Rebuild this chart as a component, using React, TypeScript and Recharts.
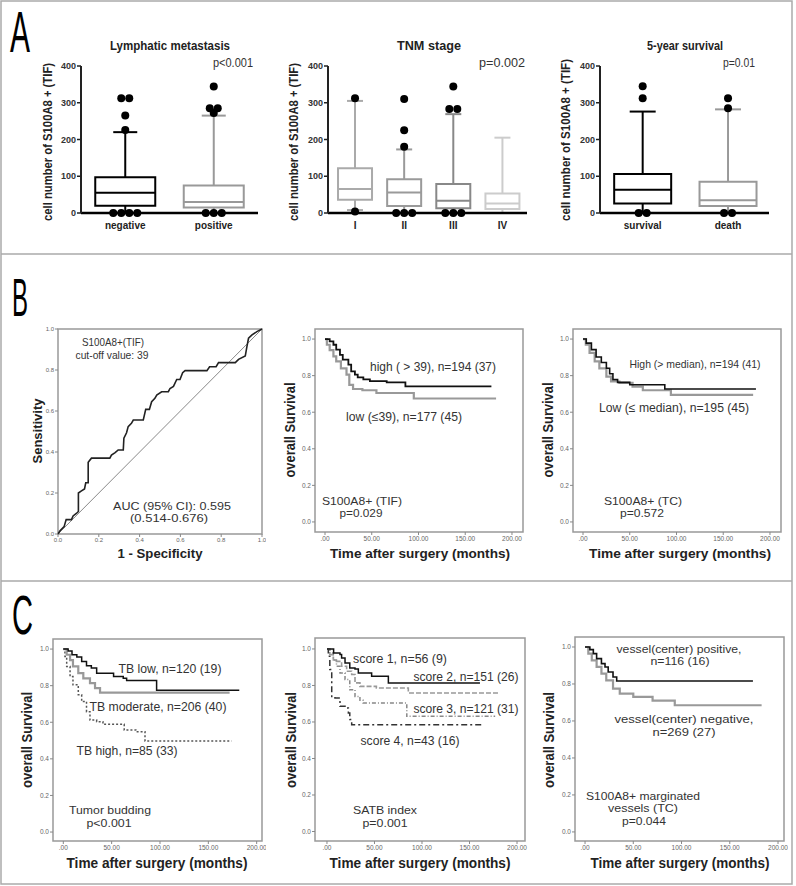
import React from "react";
import {
  ComposedChart,
  LineChart,
  Line,
  Scatter,
  XAxis,
  YAxis,
  ReferenceArea,
  ReferenceLine,
} from "recharts";

const FONT = "'Liberation Sans', Arial, Helvetica, sans-serif";

// ---------- Panel A data ----------
const lymphCats = ["negative", "positive"];
const lymphQ1 = [20, 15];
const lymphMed = [55, 30];
const lymphQ3 = [97, 75];
const lymphLow = [0, 0];
const lymphHigh = [220, 265];
const lymphOut = [
  [312, 312, 265, 226, 0, 0, 0, 0],
  [344, 285, 285, 272, 0, 0, 0],
];

const tnmCats = ["I", "II", "III", "IV"];
const tnmQ1 = [36, 19, 13, 11];
const tnmMed = [65, 56, 33, 26];
const tnmQ3 = [122, 92, 79, 53];
const tnmLow = [8, 0, 0, 0];
const tnmHigh = [305, 173, 269, 205];
const tnmOut = [
  [312, 4],
  [310, 225, 180, 0, 0, 0],
  [344, 283, 283, 0, 0, 0],
  [],
];

const survCats = ["survival", "death"];
const survQ1 = [26, 19];
const survMed = [63, 35];
const survQ3 = [106, 85];
const survLow = [0, 0];
const survHigh = [276, 282];
const survOut = [
  [345, 312, 0, 0],
  [312, 285, 0, 0],
];

const boxTicks = [0, 100, 200, 300, 400];

// ---------- Panel B data ----------
const rocFpr = [0, 0.01, 0.03, 0.04, 0.066, 0.074, 0.09, 0.1, 0.1, 0.115, 0.13, 0.136, 0.148, 0.148, 0.164, 0.254, 0.262, 0.28, 0.295, 0.32, 0.323, 0.336, 0.344, 0.36, 0.369, 0.418, 0.43, 0.448, 0.459, 0.475, 0.484, 0.508, 0.541, 0.549, 0.566, 0.582, 0.598, 0.611, 0.623, 0.73, 0.743, 0.775, 0.787, 0.869, 0.885, 0.918, 0.926, 0.934, 0.951, 0.975, 1];
const rocTpr = [0, 0.016, 0.036, 0.07, 0.07, 0.088, 0.1, 0.11, 0.2, 0.21, 0.22, 0.25, 0.25, 0.35, 0.37, 0.37, 0.385, 0.397, 0.41, 0.41, 0.467, 0.494, 0.524, 0.54, 0.556, 0.556, 0.608, 0.608, 0.645, 0.662, 0.678, 0.694, 0.694, 0.71, 0.72, 0.754, 0.754, 0.787, 0.797, 0.797, 0.816, 0.816, 0.836, 0.836, 0.852, 0.868, 0.914, 0.955, 0.971, 0.987, 1];
const rocTicks = [0, 0.2, 0.4, 0.6, 0.8, 1.0];

const tifHighT = [0, 5, 9, 12, 16, 19, 25, 28, 32, 35, 41, 48, 66, 86, 178];
const tifHighS = [1.0, 0.987, 0.969, 0.942, 0.914, 0.887, 0.86, 0.823, 0.805, 0.79, 0.78, 0.77, 0.763, 0.741, 0.741];
const tifLowT = [0, 2, 5, 9, 12, 17, 23, 26, 30, 40, 55, 95, 183];
const tifLowS = [1.0, 0.969, 0.94, 0.905, 0.878, 0.84, 0.805, 0.75, 0.727, 0.72, 0.705, 0.675, 0.675];

const tcHighT = [0, 3.5, 9, 14, 19.6, 25, 28.5, 32, 37, 50, 87.5, 185];
const tcHighS = [1.0, 0.978, 0.942, 0.902, 0.872, 0.84, 0.81, 0.778, 0.763, 0.75, 0.727, 0.727];
const tcLowT = [0, 3, 7, 12.5, 17.5, 25, 30, 39, 53, 64, 94, 182];
const tcLowS = [1.0, 0.969, 0.924, 0.878, 0.84, 0.795, 0.768, 0.76, 0.74, 0.72, 0.695, 0.695];

// ---------- Panel C data ----------
const tbLowT = [0, 5, 9, 14, 19, 24, 29, 34.5, 52, 62, 65.5, 96.5, 182];
const tbLowS = [1.0, 0.99, 0.969, 0.956, 0.932, 0.909, 0.896, 0.868, 0.85, 0.84, 0.828, 0.775, 0.775];
const tbModT = [0, 3.5, 7, 10, 15.5, 20.7, 27.6, 32.8, 38, 172];
const tbModS = [1.0, 0.969, 0.94, 0.905, 0.868, 0.84, 0.814, 0.786, 0.762, 0.762];
const tbHighT = [0, 1.7, 3.5, 7, 10, 15.5, 19, 24, 27.6, 34.5, 41, 63, 75, 84.5, 174];
const tbHighS = [1.0, 0.96, 0.905, 0.85, 0.805, 0.75, 0.713, 0.658, 0.612, 0.603, 0.589, 0.558, 0.548, 0.497, 0.497];

const sc1T = [0, 7, 13.7, 15.4, 19, 24, 29.5, 33, 47, 64.6, 161];
const sc1S = [1.0, 0.978, 0.969, 0.95, 0.923, 0.896, 0.89, 0.868, 0.85, 0.814, 0.814];
const sc2T = [0, 3, 6.7, 10, 15.4, 20.7, 26, 29.5, 34.7, 52, 85.6, 180];
const sc2S = [1.0, 0.969, 0.94, 0.932, 0.905, 0.878, 0.86, 0.814, 0.795, 0.786, 0.759, 0.759];
const sc3T = [0, 3, 6.7, 10, 13.7, 19, 24, 29.5, 34.7, 38, 84, 177];
const sc3S = [1.0, 0.978, 0.94, 0.905, 0.868, 0.832, 0.777, 0.74, 0.719, 0.704, 0.631, 0.631];
const sc4T = [0, 1.4, 3, 5, 8.4, 13.7, 19, 22.5, 24, 26, 163];
const sc4S = [1.0, 0.96, 0.887, 0.74, 0.731, 0.686, 0.677, 0.649, 0.613, 0.585, 0.585];

const vesPosT = [0, 5, 8.6, 12, 17, 20.7, 24, 29, 32.8, 174];
const vesPosS = [1.0, 0.986, 0.964, 0.937, 0.91, 0.892, 0.865, 0.838, 0.816, 0.816];
const vesNegT = [0, 3.4, 7, 12, 17, 22, 29, 36, 50, 70, 93, 183];
const vesNegS = [1.0, 0.964, 0.928, 0.892, 0.856, 0.82, 0.775, 0.748, 0.73, 0.71, 0.685, 0.685];

const kmXTicks = [0, 50, 100, 150, 200];
const kmYTicks = [0, 0.2, 0.4, 0.6, 0.8, 1.0];

const zipKM = (t: number[], s: number[]) => t.map((v, i) => ({ t: v, s: s[i] }));

type Rect = { x: number; y: number; w: number; h: number };

function BoxPanel(props: {
  cats: string[];
  q1: number[];
  med: number[];
  q3: number[];
  lo: number[];
  hi: number[];
  out: number[][];
  colors: string[];
  rect: Rect;
  dom: [number, number];
  boxPx: number;
  capPx: number;
}) {
  const { cats, q1, med, q3, lo, hi, out, colors, rect, dom, boxPx, capPx } = props;
  const wY = 40, hX = 26, tp = 10, rp = 6;
  const unit = rect.w / (dom[1] - dom[0]);
  const half = boxPx / unit;
  const cap = capPx / unit;
  const pts: { x: number; y: number }[] = [];
  out.forEach((arr, i) => {
    const groups: Record<string, number> = {};
    arr.forEach((v) => (groups[String(v)] = (groups[String(v)] || 0) + 1));
    Object.keys(groups).forEach((k) => {
      const n = groups[k];
      for (let j = 0; j < n; j++) pts.push({ x: i + 1 + ((j - (n - 1) / 2) * 8) / unit, y: Number(k) });
    });
  });
  const ticks = cats.map((_, i) => i + 1);
  return (
    <div style={{ position: "absolute", left: rect.x - wY, top: rect.y - tp }}>
      <ComposedChart width={wY + rect.w + rp} height={tp + rect.h + hX} margin={{ top: tp, right: rp, left: 0, bottom: 0 }}>
        <XAxis
          type="number"
          dataKey="x"
          domain={dom}
          ticks={ticks}
          interval={0}
          tickFormatter={(v: number) => cats[Math.round(v) - 1]}
          axisLine={{ stroke: "#000", strokeWidth: 2.5 }}
          tickLine={false}
          tickMargin={3}
          height={hX}
          tick={{ fontSize: 10, fontWeight: 700, fill: "#222", fontFamily: FONT }}
        />
        <YAxis
          type="number"
          dataKey="y"
          domain={[0, 400]}
          ticks={boxTicks}
          interval={0}
          width={wY}
          axisLine={{ stroke: "#222", strokeWidth: 2 }}
          tickLine={{ stroke: "#222", strokeWidth: 1.5 }}
          tickSize={4}
          tickMargin={1}
          tick={{ fontSize: 9, fontWeight: 700, fill: "#333", fontFamily: FONT }}
        />
        {cats.map((c, i) => (
          <ReferenceLine
            key={"wl" + c}
            segment={[{ x: i + 1, y: lo[i] }, { x: i + 1, y: q1[i] }]}
            stroke={colors[i]}
            strokeWidth={2}
          />
        ))}
        {cats.map((c, i) => (
          <ReferenceLine
            key={"wh" + c}
            segment={[{ x: i + 1, y: q3[i] }, { x: i + 1, y: hi[i] }]}
            stroke={colors[i]}
            strokeWidth={2}
          />
        ))}
        {cats.map((c, i) => (
          <ReferenceLine
            key={"ch" + c}
            segment={[{ x: i + 1 - cap, y: hi[i] }, { x: i + 1 + cap, y: hi[i] }]}
            stroke={colors[i]}
            strokeWidth={2}
          />
        ))}
        {cats.map((c, i) => (
          <ReferenceLine
            key={"cl" + c}
            segment={[{ x: i + 1 - cap, y: lo[i] }, { x: i + 1 + cap, y: lo[i] }]}
            stroke={colors[i]}
            strokeWidth={2}
          />
        ))}
        {cats.map((c, i) => (
          <ReferenceArea
            key={"bx" + c}
            x1={i + 1 - half}
            x2={i + 1 + half}
            y1={q1[i]}
            y2={q3[i]}
            fill="none"
            fillOpacity={0}
            stroke={colors[i]}
            strokeWidth={2}
          />
        ))}
        {cats.map((c, i) => (
          <ReferenceLine
            key={"md" + c}
            segment={[{ x: i + 1 - half, y: med[i] }, { x: i + 1 + half, y: med[i] }]}
            stroke={colors[i]}
            strokeWidth={2}
          />
        ))}
        <Scatter
          data={pts}
          dataKey="y"
          isAnimationActive={false}
          shape={(p: any) => <circle cx={p.cx} cy={p.cy} r={4} fill="#000" />}
        />
      </ComposedChart>
    </div>
  );
}

type Series = { data: { t: number; s: number }[]; stroke: string; width: number; dash?: string };

function KMPanel(props: { rect: Rect; xd: [number, number]; yd: [number, number]; series: Series[] }) {
  const { rect, xd, yd, series } = props;
  const wY = 24, hX = 16, tp = 4, rp = 4;
  return (
    <div style={{ position: "absolute", left: rect.x - wY, top: rect.y - tp }}>
      <LineChart width={wY + rect.w + rp} height={tp + rect.h + hX} margin={{ top: tp, right: rp, left: 0, bottom: 0 }}>
        <XAxis
          type="number"
          dataKey="t"
          domain={xd}
          ticks={kmXTicks}
          interval={0}
          tickFormatter={(v: number) => (v === 0 ? ".00" : v.toFixed(2))}
          axisLine={false}
          tickLine={{ stroke: "#888" }}
          tickSize={3}
          tickMargin={1}
          height={hX}
          tick={{ fontSize: 6.5, fill: "#666", fontFamily: FONT }}
        />
        <YAxis
          type="number"
          domain={yd}
          ticks={kmYTicks}
          interval={0}
          tickFormatter={(v: number) => v.toFixed(1)}
          axisLine={false}
          tickLine={{ stroke: "#888" }}
          tickSize={3}
          tickMargin={1}
          width={wY}
          tick={{ fontSize: 6.5, fill: "#666", fontFamily: FONT }}
        />
        <ReferenceArea x1={xd[0]} x2={xd[1]} y1={yd[0]} y2={yd[1]} fill="none" fillOpacity={0} stroke="#999" strokeWidth={1.5} />
        {series.map((s, i) => (
          <Line
            key={i}
            data={s.data}
            dataKey="s"
            type="stepAfter"
            stroke={s.stroke}
            strokeWidth={s.width}
            strokeDasharray={s.dash}
            dot={false}
            isAnimationActive={false}
          />
        ))}
      </LineChart>
    </div>
  );
}

function RocPanel(props: { rect: Rect }) {
  const { rect } = props;
  const wY = 24, hX = 16, tp = 4, rp = 4;
  const data = rocFpr.map((x, i) => ({ x, y: rocTpr[i] }));
  return (
    <div style={{ position: "absolute", left: rect.x - wY, top: rect.y - tp }}>
      <LineChart width={wY + rect.w + rp} height={tp + rect.h + hX} margin={{ top: tp, right: rp, left: 0, bottom: 0 }}>
        <XAxis
          type="number"
          dataKey="x"
          domain={[0, 1]}
          ticks={rocTicks}
          interval={0}
          tickFormatter={(v: number) => v.toFixed(1)}
          axisLine={false}
          tickLine={{ stroke: "#888" }}
          tickSize={3}
          tickMargin={1}
          height={hX}
          tick={{ fontSize: 6, fill: "#666", fontFamily: FONT }}
        />
        <YAxis
          type="number"
          domain={[0, 1]}
          ticks={rocTicks}
          interval={0}
          tickFormatter={(v: number) => v.toFixed(1)}
          axisLine={false}
          tickLine={{ stroke: "#888" }}
          tickSize={3}
          tickMargin={1}
          width={wY}
          tick={{ fontSize: 6, fill: "#666", fontFamily: FONT }}
        />
        <ReferenceArea x1={0} x2={1} y1={0} y2={1} fill="none" fillOpacity={0} stroke="#999" strokeWidth={1.5} />
        <ReferenceLine segment={[{ x: 0, y: 0 }, { x: 1, y: 1 }]} stroke="#888" strokeWidth={1} />
        <Line data={data} dataKey="y" type="linear" stroke="#222" strokeWidth={1.6} dot={false} isAnimationActive={false} />
      </LineChart>
    </div>
  );
}

function Txt(p: { x: number; y: number; s: string; size?: number; w?: number; bold?: boolean; rot?: boolean; fill?: string }) {
  const size = p.size || 12;
  const x = p.rot ? p.x + size * 0.36 : p.x;
  return (
    <text
      x={x}
      y={p.y}
      fontSize={size}
      fontWeight={p.bold ? 700 : 400}
      fontFamily={FONT}
      textAnchor="middle"
      fill={p.fill || "#222"}
      textLength={p.w}
      lengthAdjust={p.w ? "spacingAndGlyphs" : undefined}
      transform={p.rot ? `rotate(-90 ${x} ${p.y})` : undefined}
    >
      {p.s}
    </text>
  );
}

export default function App() {
  const kmB: [number, number] = [-10.7, 211.8];
  const ykmB: [number, number] = [-0.055, 1.055];
  return (
    <div style={{ position: "absolute", left: 0, top: 0, width: 796, height: 886, background: "#fff", overflow: "hidden" }}>
      {/* Panel A */}
      <BoxPanel cats={lymphCats} q1={lymphQ1} med={lymphMed} q3={lymphQ3} lo={lymphLow} hi={lymphHigh} out={lymphOut}
        colors={["#000", "#999"]} rect={{ x: 81, y: 65.5, w: 177, h: 147 }} dom={[0.5, 2.5]} boxPx={30} capPx={12} />
      <BoxPanel cats={tnmCats} q1={tnmQ1} med={tnmMed} q3={tnmQ3} lo={tnmLow} hi={tnmHigh} out={tnmOut}
        colors={["#aaa", "#9a9a9a", "#888", "#ccc"]} rect={{ x: 328, y: 65.5, w: 199, h: 147 }} dom={[0.45, 4.5]} boxPx={17} capPx={8} />
      <BoxPanel cats={survCats} q1={survQ1} med={survMed} q3={survQ3} lo={survLow} hi={survHigh} out={survOut}
        colors={["#000", "#999"]} rect={{ x: 600, y: 65.5, w: 169, h: 147 }} dom={[0.5, 2.48]} boxPx={28.5} capPx={13} />

      {/* Panel B */}
      <RocPanel rect={{ x: 58, y: 329, w: 204, h: 205 }} />
      <KMPanel rect={{ x: 315, y: 329, w: 208, h: 203 }} xd={kmB} yd={ykmB}
        series={[
          { data: zipKM(tifLowT, tifLowS), stroke: "#999", width: 2.2 },
          { data: zipKM(tifHighT, tifHighS), stroke: "#111", width: 1.8 },
        ]} />
      <KMPanel rect={{ x: 573, y: 329, w: 208, h: 203 }} xd={kmB} yd={ykmB}
        series={[
          { data: zipKM(tcLowT, tcLowS), stroke: "#999", width: 2.2 },
          { data: zipKM(tcHighT, tcHighS), stroke: "#111", width: 1.6 },
        ]} />

      {/* Panel C */}
      <KMPanel rect={{ x: 53, y: 639, w: 209, h: 202 }} xd={[-10.65, 205.5]} yd={[-0.049, 1.055]}
        series={[
          { data: zipKM(tbHighT, tbHighS), stroke: "#555", width: 1.5, dash: "2 2" },
          { data: zipKM(tbModT, tbModS), stroke: "#999", width: 2.2 },
          { data: zipKM(tbLowT, tbLowS), stroke: "#111", width: 1.5 },
        ]} />
      <KMPanel rect={{ x: 315, y: 638, w: 210, h: 203 }} xd={[-12.6, 208.4]} yd={[-0.052, 1.06]}
        series={[
          { data: zipKM(sc4T, sc4S), stroke: "#333", width: 1.5, dash: "6 3 2 3" },
          { data: zipKM(sc3T, sc3S), stroke: "#888", width: 1.5, dash: "4 2 1 2" },
          { data: zipKM(sc2T, sc2S), stroke: "#999", width: 1.6, dash: "5 2" },
          { data: zipKM(sc1T, sc1S), stroke: "#111", width: 1.5 },
        ]} />
      <KMPanel rect={{ x: 575, y: 637, w: 209, h: 204 }} xd={[-10.4, 206.2]} yd={[-0.049, 1.054]}
        series={[
          { data: zipKM(vesNegT, vesNegS), stroke: "#999", width: 2.2 },
          { data: zipKM(vesPosT, vesPosS), stroke: "#111", width: 1.6 },
        ]} />

      {/* Overlay text and frames */}
      <svg width={796} height={886} style={{ position: "absolute", left: 0, top: 0, pointerEvents: "none" }}>
        <rect x={1} y={1} width={791} height={883} fill="none" stroke="#aaa" strokeWidth={1.5} />
        <line x1={1} x2={792} y1={254} y2={254} stroke="#aaa" strokeWidth={1.5} />
        <line x1={1} x2={792} y1={581} y2={581} stroke="#aaa" strokeWidth={1.5} />

        <Txt x={20} y={52} s="A" size={58} w={20} fill="#000" />
        <Txt x={20} y={316} s="B" size={54} w={16} fill="#000" />
        <Txt x={22.5} y={634} s="C" size={56} w={21} fill="#000" />

        <Txt x={170} y={50} s="Lymphatic metastasis" size={12.5} bold w={120} />
        <Txt x={429} y={50} s="TNM stage" size={12.5} bold w={64} />
        <Txt x={685} y={50} s="5-year survival" size={12.5} bold w={76} />
        <Txt x={233} y={67} s="p<0.001" size={12} w={40} fill="#333" />
        <Txt x={502} y={67} s="p=0.002" size={12} w={46} fill="#333" />
        <Txt x={739} y={67} s="p=0.01" size={12} w={32} fill="#333" />
        <Txt x={48} y={142} s="cell number of S100A8 + (TIF)" size={12} bold w={158} rot />
        <Txt x={294} y={142} s="cell number of S100A8 + (TIF)" size={12} bold w={158} rot />
        <Txt x={566} y={140} s="cell number of S100A8 + (TIF)" size={12} bold w={162} rot />

        <Txt x={113} y={345.5} s="S100A8+(TIF)" size={11.5} w={62} fill="#333" />
        <Txt x={112} y={358.5} s="cut-off value: 39" size={11.5} w={73} fill="#333" />
        <Txt x={172} y={510} s="AUC (95% CI): 0.595" size={11.5} w={118} fill="#333" />
        <Txt x={169} y={522} s="(0.514-0.676)" size={11.5} w={78} fill="#333" />
        <Txt x={37.5} y={431} s="Sensitivity" size={13} bold w={65} rot />
        <Txt x={160} y={558} s="1 - Specificity" size={13.5} bold w={85} />

        <Txt x={433} y={371} s="high ( > 39), n=194 (37)" size={12} w={126} fill="#333" />
        <Txt x={404} y={421} s="low (≤39), n=177 (45)" size={12} w={116} fill="#333" />
        <Txt x={362} y={505} s="S100A8+ (TIF)" size={11.5} w={80} fill="#333" />
        <Txt x={361} y={517} s="p=0.029" size={11.5} w={43} fill="#333" />
        <Txt x={290} y={430} s="overall Survival" size={14} bold w={95} rot />
        <Txt x={420} y={558} s="Time after surgery (months)" size={13.5} bold w={180} />

        <Txt x={695} y={368} s="High (> median), n=194 (41)" size={10.5} w={131} fill="#333" />
        <Txt x={674} y={412} s="Low (≤ median), n=195 (45)" size={12.5} w={150} fill="#333" />
        <Txt x={643} y={505} s="S100A8+ (TC)" size={11.5} w={78} fill="#333" />
        <Txt x={642} y={517} s="p=0.572" size={11.5} w={44} fill="#333" />
        <Txt x={548} y={430} s="overall Survival" size={14} bold w={95} rot />
        <Txt x={680} y={558} s="Time after surgery (months)" size={13.5} bold w={182} />

        <Txt x={170} y={673} s="TB low, n=120 (19)" size={12} w={103} fill="#333" />
        <Txt x={158} y={711} s="TB moderate, n=206 (40)" size={12} w={137} fill="#333" />
        <Txt x={127} y={755} s="TB high, n=85 (33)" size={12} w={101} fill="#333" />
        <Txt x={110} y={814} s="Tumor budding" size={11.5} w={82} fill="#333" />
        <Txt x={109} y={827} s="p<0.001" size={11.5} w={45} fill="#333" />
        <Txt x={27} y={740} s="overall Survival" size={14} bold w={96} rot />
        <Txt x={157} y={868} s="Time after surgery (months)" size={14} bold w={181} />

        <Txt x={400} y={663} s="score 1, n=56 (9)" size={12} w={94} fill="#333" />
        <Txt x={466} y={681} s="score 2, n=151 (26)" size={12} w={105} fill="#333" />
        <Txt x={466} y={713} s="score 3, n=121 (31)" size={12} w={105} fill="#333" />
        <Txt x={410} y={745} s="score 4, n=43 (16)" size={12} w={99} fill="#333" />
        <Txt x={385} y={814} s="SATB index" size={11.5} w={64} fill="#333" />
        <Txt x={385} y={827} s="p=0.001" size={11.5} w={45} fill="#333" />
        <Txt x={291} y={740} s="overall Survival" size={14} bold w={96} rot />
        <Txt x={420} y={868} s="Time after surgery (months)" size={14} bold w={181} />

        <Txt x={679} y={653} s="vessel(center) positive," size={11.5} w={125} fill="#333" />
        <Txt x={680} y={665} s="n=116 (16)" size={11.5} w={59} fill="#333" />
        <Txt x={684} y={723} s="vessel(center) negative," size={11.5} w={139} fill="#333" />
        <Txt x={684} y={736} s="n=269 (27)" size={11.5} w={63} fill="#333" />
        <Txt x={643} y={800} s="S100A8+ marginated" size={11.5} w={114} fill="#333" />
        <Txt x={643} y={812} s="vessels (TC)" size={11.5} w={70} fill="#333" />
        <Txt x={644} y={825} s="p=0.044" size={11.5} w={44} fill="#333" />
        <Txt x={549} y={740} s="overall Survival" size={14} bold w={96} rot />
        <Txt x={680} y={868} s="Time after surgery (months)" size={14} bold w={179} />
      </svg>
    </div>
  );
}
